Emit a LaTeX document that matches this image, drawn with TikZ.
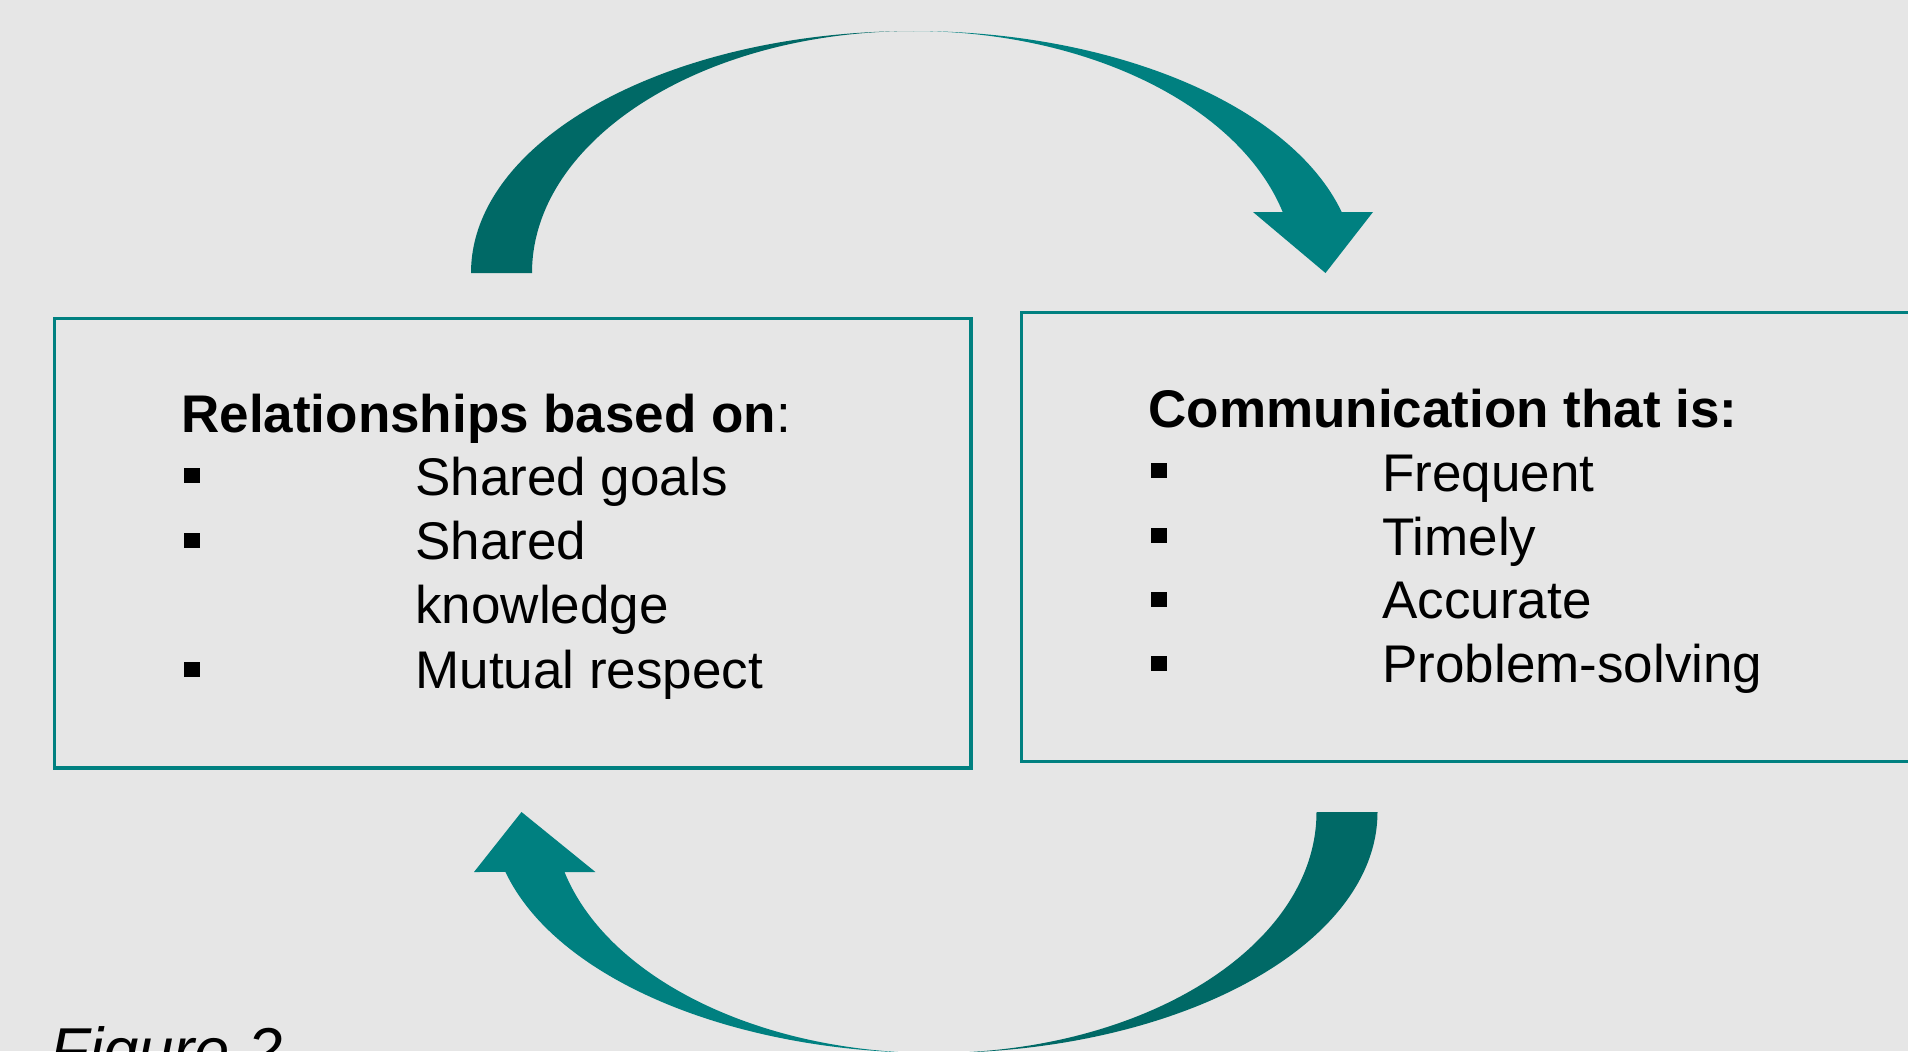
\documentclass[tikz,border=0pt]{standalone}
\usepackage{fontspec}
\setmainfont{Liberation Sans}
\definecolor{pagebg}{HTML}{E6E6E6}
\definecolor{arrowteal}{HTML}{008080}
\definecolor{arrowdark}{HTML}{006966}
\begin{document}
\begin{tikzpicture}[x=0.5pt,y=-0.5pt,
  framebox/.style={draw=arrowteal, line width=1.75pt, inner sep=0, outer sep=0, anchor=north west},
  heading/.style={anchor=base west, inner sep=0, font=\fontsize{26.5}{30}\selectfont\bfseries},
  item/.style={anchor=base west, inner sep=0, font=\fontsize{26.5}{30}\selectfont},
  bulletsq/.style={fill=black, inner sep=0, outer sep=0, minimum width=8pt, minimum height=7.5pt, anchor=north west},
  caption/.style={anchor=base west, inner sep=0, font=\fontsize{31.7}{38}\selectfont\itshape}]
% page
\useasboundingbox (0,0) rectangle (1908,1051);
\clip (0,0) rectangle (1908,1051);
\fill[pagebg] (0,0) rectangle (1908,1051);

% upper curved arrow (left to right)
\fill[arrowdark] (471,273)
  arc[start angle=180, end angle=270, x radius=443, y radius=242]
  arc[start angle=270, end angle=180, x radius=382, y radius=242] -- cycle;
\fill[arrowteal] (913,31)
  arc[start angle=270, end angle=345.4, x radius=443, y radius=242]
  -- (1373,212) -- (1325.5,273) -- (1253,212) -- (1282.7,212)
  arc[start angle=345.4, end angle=270, x radius=382, y radius=242] -- cycle;

% lower curved arrow (right to left)
\fill[arrowteal] (934.5,1053)
  arc[start angle=90, end angle=165.6, x radius=443, y radius=241]
  -- (474,872) -- (521.5,812) -- (595.4,872) -- (564.5,872)
  arc[start angle=165.6, end angle=90, x radius=382, y radius=241] -- cycle;
\fill[arrowdark] (1377.5,812)
  arc[start angle=0, end angle=90, x radius=443, y radius=241]
  arc[start angle=90, end angle=0, x radius=382, y radius=241] -- cycle;

% boxes
\node[framebox, minimum width=458.25pt, minimum height=224.85pt] (relbox) at (54.5,318.3) {};
\node[framebox, minimum width=454.3pt, minimum height=224.7pt] (combox) at (1021.4,312.3) {};

% left box text
\node[heading] (relhead) at (181,432) {Relationships based on\mdseries:};
\node[bulletsq] (rb1) at (184,468) {};
\node[item] (r1) at (415,495) {Shared goals};
\node[bulletsq] (rb2) at (184,533) {};
\node[item] (r2) at (415,559) {Shared};
\node[item] (r2b) at (415,623) {knowledge};
\node[bulletsq] (rb3) at (184,662) {};
\node[item] (r3) at (415,688) {Mutual respect};

% right box text
\node[heading] (comhead) at (1148,427) {Communication that is:};
\node[bulletsq] (cb1) at (1151,463) {};
\node[item] (c1) at (1382,491) {Frequent};
\node[bulletsq] (cb2) at (1151,528) {};
\node[item] (c2) at (1382,555) {Timely};
\node[bulletsq] (cb3) at (1151,592) {};
\node[item] (c3) at (1382,618) {Accurate};
\node[bulletsq] (cb4) at (1151,656) {};
\node[item] (c4) at (1382,682) {Problem-solving};

% caption
\node[caption] (fig) at (50,1072) {Figure 2};
\end{tikzpicture}
\end{document}
